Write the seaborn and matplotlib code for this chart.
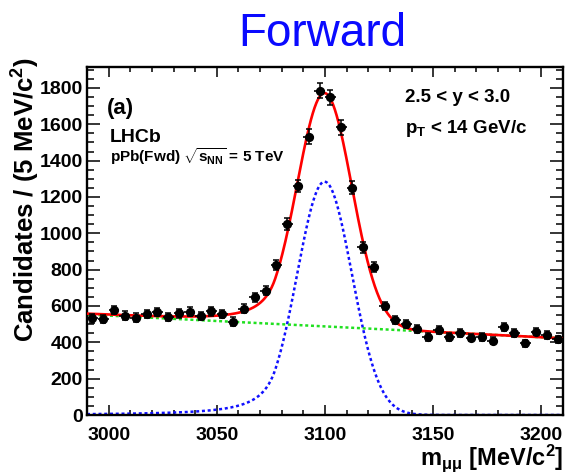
import numpy as np
import pandas as pd
import matplotlib
matplotlib.use("Agg")
import matplotlib.pyplot as plt
import seaborn as sns
from matplotlib.ticker import MultipleLocator

# Dimuon invariant-mass histogram, 5 MeV/c^2 bins from 2990 to 3210 MeV/c^2
bin_low, bin_high, bin_width = 2990.0, 3210.0, 5.0
counts = [532, 528, 578, 547, 536, 556, 567, 538, 560, 569, 545, 571,
          556, 514, 585, 648, 684, 826, 1049, 1260, 1532, 1785, 1748, 1583,
          1250, 923, 813, 600, 523, 501, 472, 428, 468, 428, 453, 426,
          428, 409, 486, 453, 394, 459, 440, 417]

# Fit model: Crystal Ball signal + linear combinatorial background
sig_peak = 1284.0
sig_mean = 3099.8
sig_width = 12.6
cb_alpha = 1.8
cb_n = 2.0
bkg_low = 553.0    # background level at 2990 MeV/c^2
bkg_high = 422.0   # background level at 3210 MeV/c^2

x_ticks = [3000, 3050, 3100, 3150, 3200]
y_ticks = [0, 200, 400, 600, 800, 1000, 1200, 1400, 1600, 1800]

edges = np.arange(bin_low, bin_high + 0.5 * bin_width, bin_width)
centers = 0.5 * (edges[:-1] + edges[1:])
data = pd.DataFrame({"mass": centers, "counts": np.array(counts, float)})
data["err"] = np.sqrt(data["counts"])


def crystal_ball(m):
    z = (m - sig_mean) / sig_width
    a = abs(cb_alpha)
    A = (cb_n / a) ** cb_n * np.exp(-0.5 * a * a)
    B = cb_n / a - a
    core = np.exp(-0.5 * z * z)
    tail = A * np.power(np.clip(B - z, 1e-9, None), -cb_n)
    return sig_peak * np.where(z > -a, core, tail)


def background(m):
    return bkg_low + (bkg_high - bkg_low) * (m - bin_low) / (bin_high - bin_low)


grid = np.linspace(bin_low, bin_high, 800)
curves = pd.DataFrame({
    "mass": grid,
    "signal": crystal_ball(grid),
    "background": background(grid),
})
curves["total"] = curves["signal"] + curves["background"]

sns.set_theme(style="ticks")
plt.rcParams["font.family"] = ["Liberation Sans", "DejaVu Sans"]
plt.rcParams["font.weight"] = "bold"
plt.rcParams["text.color"] = "black"
plt.rcParams["axes.labelcolor"] = "black"
plt.rcParams["xtick.color"] = "black"
plt.rcParams["ytick.color"] = "black"
plt.rcParams["xtick.labelcolor"] = "black"
plt.rcParams["ytick.labelcolor"] = "black"
plt.rcParams["mathtext.fontset"] = "custom"
plt.rcParams["mathtext.rm"] = "Liberation Sans:bold"
plt.rcParams["mathtext.bf"] = "Liberation Sans:bold"
plt.rcParams["mathtext.it"] = "Liberation Sans:bold"
plt.rcParams["mathtext.sf"] = "Liberation Sans:bold"

fig = plt.figure(figsize=(5.65, 4.73), dpi=100)
ax = fig.add_axes([87 / 565, 1 - 415 / 473, (563 - 87) / 565, (415 - 67) / 473])

sns.lineplot(data=curves, x="mass", y="signal", ax=ax, color="#1010ff",
             lw=1.8, linestyle=(0, (1.2, 1.1)), zorder=2)
sns.lineplot(data=curves, x="mass", y="background", ax=ax, color="#20e020",
             lw=1.8, linestyle=(0, (1.2, 1.1)), zorder=2)
sns.lineplot(data=curves, x="mass", y="total", ax=ax, color="#ff0000",
             lw=1.9, zorder=3)

ax.errorbar(data["mass"], data["counts"], yerr=data["err"], fmt="none",
            ecolor="black", elinewidth=1.1, capsize=2, capthick=1.1, zorder=4)
ax.errorbar(data["mass"], data["counts"], xerr=bin_width / 2, fmt="none",
            ecolor="black", elinewidth=1.2, zorder=4)
sns.scatterplot(data=data, x="mass", y="counts", ax=ax, color="black",
                s=44, edgecolor="black", linewidth=0, zorder=5)

ax.set_xlim(bin_low, bin_high)
ax.set_ylim(0, 1915)
ax.set_xticks(x_ticks)
ax.set_yticks(y_ticks)
ax.xaxis.set_minor_locator(MultipleLocator(10))
ax.yaxis.set_minor_locator(MultipleLocator(50))
ax.set_xlabel("")
ax.set_ylabel("")

for side in ["left", "right", "top", "bottom"]:
    ax.spines[side].set_visible(True)
    ax.spines[side].set_linewidth(1.7)
    ax.spines[side].set_color("black")

ax.tick_params(axis="both", which="both", direction="in", top=True,
               right=True, colors="black", width=1.1)
ax.tick_params(axis="x", which="major", length=7.2, pad=8.5)
ax.tick_params(axis="x", which="minor", length=3.6)
ax.tick_params(axis="y", which="major", length=9.5, pad=3)
ax.tick_params(axis="y", which="minor", length=5)
for lab in ax.get_xticklabels() + ax.get_yticklabels():
    lab.set_fontsize(14)
    lab.set_fontweight("bold")
    lab.set_color("black")

fig.text(322 / 565, 1 - 46 / 473, "Forward", ha="center", va="baseline",
         fontsize=33, color="#0a0aff", fontweight="normal")

fig.text(26 / 565, 1 - 200 / 473, r"Candidates / (5 MeV/c$^{2}$)",
         rotation=90, ha="center", va="center", fontsize=18.5,
         fontweight="bold", color="black")
fig.text(563 / 565, 1 - 465 / 473, r"m$_{\mu\mu}$ [MeV/c$^{2}$]",
         ha="right", va="baseline", fontsize=17, fontweight="bold",
         color="black")

ax.text(107 / 565, 1 - 114 / 473, "(a)", transform=fig.transFigure,
        fontsize=16, fontweight="bold", va="baseline", color="black")
ax.text(110 / 565, 1 - 142 / 473, "LHCb", transform=fig.transFigure,
        fontsize=14, fontweight="bold", va="baseline", color="black")
ax.text(110 / 565, 1 - 162 / 473, r"pPb(Fwd) $\sqrt{s_{\rm NN}}$ = 5 TeV",
        transform=fig.transFigure, fontsize=11, fontweight="bold",
        va="baseline", color="black")
ax.text(405 / 565, 1 - 102 / 473, "2.5 < y < 3.0", transform=fig.transFigure,
        fontsize=13.5, fontweight="bold", va="baseline", color="black")
ax.text(405 / 565, 1 - 133 / 473, r"p$_{\rm T}$ < 14 GeV/c",
        transform=fig.transFigure, fontsize=13.5, fontweight="bold",
        va="baseline", color="black")

fig.savefig("out.png", dpi=100, facecolor="white")
